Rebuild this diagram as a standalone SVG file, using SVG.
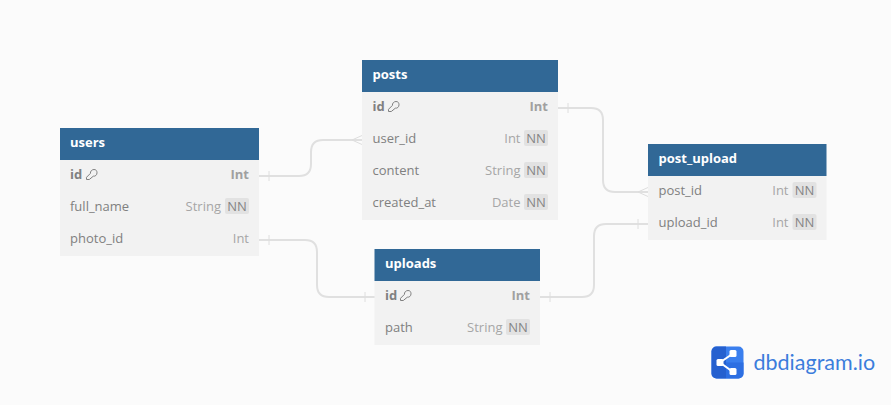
<svg xmlns="http://www.w3.org/2000/svg" width="891" height="405" viewBox="0 0 891 405">
<style>
text{font-family:"Open Sans","Noto Sans",sans-serif;font-size:13px}
.bg{fill:#f2f2f2}
.hd{fill:#316896}
.t{fill:#fff;font-weight:700}
.n{fill:#808080}
.b{fill:#808080;font-weight:700}
.ty{fill:#a6a6a6;text-anchor:end}
.tb{fill:#a0a0a0;font-weight:700;text-anchor:end}
.nnb{fill:#e2e2e2}
.nn{fill:#858585;text-anchor:middle}
.c{fill:none;stroke:#e0e0e0;stroke-width:2}
.m{fill:none;stroke:#dedede;stroke-width:1}
.k{fill:none;stroke:#808080;stroke-width:1}
</style>
<defs>
<g id="key"><path class="k" d="M0.500 10.500V8.300L4.400 4.400C4.200 2.400 5.800 .5 8 .5C10.200 .5 11 2 11 3.800C11 6 9.300 7.500 7.300 7.200L3.300 10.500Z"/></g>
</defs>
<rect width="891" height="405" fill="#fbfbfb"/>
<g id="connectors">
<path class="c" d="M259 176H299Q311 176 311 164V152Q311 140 323 140H362"/>
<path class="m" d="M269 171V181M352 140L362 135.500M352 140L362 144.500"/>
<path class="c" d="M259 240H305Q317 240 317 252V285Q317 297 329 297H375"/>
<path class="m" d="M269 235V245M365 292V302"/>
<path class="c" d="M558 108H591Q603 108 603 120V180Q603 192 615 192H648"/>
<path class="m" d="M568 103V113M638 192L648 187.500M638 192L648 196.500"/>
<path class="c" d="M540 297H582Q594 297 594 285V236Q594 224 606 224H648"/>
<path class="m" d="M550 292V302M638 219V229"/>
</g>
<g id="users">
<rect class="bg" x="60" y="160" width="199" height="96"/><rect class="hd" x="60" y="128" width="199" height="32"/>
<text class="t" x="70" y="147">users</text>
<text class="b" x="70" y="179">id</text><use href="#key" x="86" y="169"/><text class="tb" x="249" y="179">Int</text>
<text class="n" x="70" y="211">full_name</text><text class="ty" x="221" y="211">String</text><rect class="nnb" x="225" y="198" width="24" height="16" rx="2"/><text class="nn" x="237" y="211">NN</text>
<text class="n" x="70" y="243">photo_id</text><text class="ty" x="249" y="243">Int</text>
</g>
<g id="posts">
<rect class="bg" x="362" y="92" width="196" height="128"/><rect class="hd" x="362" y="60" width="196" height="32"/>
<text class="t" x="372.500" y="79">posts</text>
<text class="b" x="372.500" y="111">id</text><use href="#key" x="388" y="101"/><text class="tb" x="548" y="111">Int</text>
<text class="n" x="372.500" y="143">user_id</text><text class="ty" x="520.500" y="143">Int</text><rect class="nnb" x="524" y="130" width="24" height="16" rx="2"/><text class="nn" x="536" y="143">NN</text>
<text class="n" x="372.500" y="175">content</text><text class="ty" x="520.500" y="175">String</text><rect class="nnb" x="524" y="162" width="24" height="16" rx="2"/><text class="nn" x="536" y="175">NN</text>
<text class="n" x="372.500" y="207">created_at</text><text class="ty" x="520.500" y="207">Date</text><rect class="nnb" x="524" y="194" width="24" height="16" rx="2"/><text class="nn" x="536" y="207">NN</text>
</g>
<g id="post_upload">
<rect class="bg" x="648" y="176" width="178.500" height="64"/><rect class="hd" x="648" y="144" width="178.500" height="32"/>
<text class="t" x="658.500" y="163">post_upload</text>
<text class="n" x="658.500" y="195">post_id</text><text class="ty" x="788.500" y="195">Int</text><rect class="nnb" x="792.500" y="182" width="24" height="16" rx="2"/><text class="nn" x="804.500" y="195">NN</text>
<text class="n" x="658.500" y="227">upload_id</text><text class="ty" x="788.500" y="227">Int</text><rect class="nnb" x="792.500" y="214" width="24" height="16" rx="2"/><text class="nn" x="804.500" y="227">NN</text>
</g>
<g id="uploads">
<rect class="bg" x="374.500" y="281" width="165.500" height="64"/><rect class="hd" x="374.500" y="249" width="165.500" height="32"/>
<text class="t" x="385" y="268">uploads</text>
<text class="b" x="385" y="300">id</text><use href="#key" x="400" y="290"/><text class="tb" x="530" y="300">Int</text>
<text class="n" x="385" y="332">path</text><text class="ty" x="502.500" y="332">String</text><rect class="nnb" x="506" y="319" width="24" height="16" rx="2"/><text class="nn" x="518" y="332">NN</text>
</g>
<g id="logo">
<rect x="711.500" y="346.500" width="32" height="32" rx="5" fill="#3a7fee"/>
<path d="M726 362.500H743.500V373.500a5 5 0 0 1-5 5H726Z" fill="#2d6fe2"/>
<path d="M711.500 351.500a5 5 0 0 1 5-5H726V378.500H716.500a5 5 0 0 1-5-5Z" fill="#2560cf"/>
<path d="M733 353.500L720 362.500L733 372" fill="none" stroke="#fff" stroke-width="2"/>
<rect x="729.500" y="350" width="7" height="7" rx="1.500" fill="#fff"/><rect x="716.500" y="359" width="7" height="7" rx="1.500" fill="#fff"/><rect x="729.500" y="368" width="7" height="7" rx="1.500" fill="#fff"/>
<text x="753.500" y="369.500" style="font-family:Lato,'Open Sans',sans-serif;font-size:21.500px;fill:#3b7ddc">dbdiagram.io</text>
</g>
</svg>
